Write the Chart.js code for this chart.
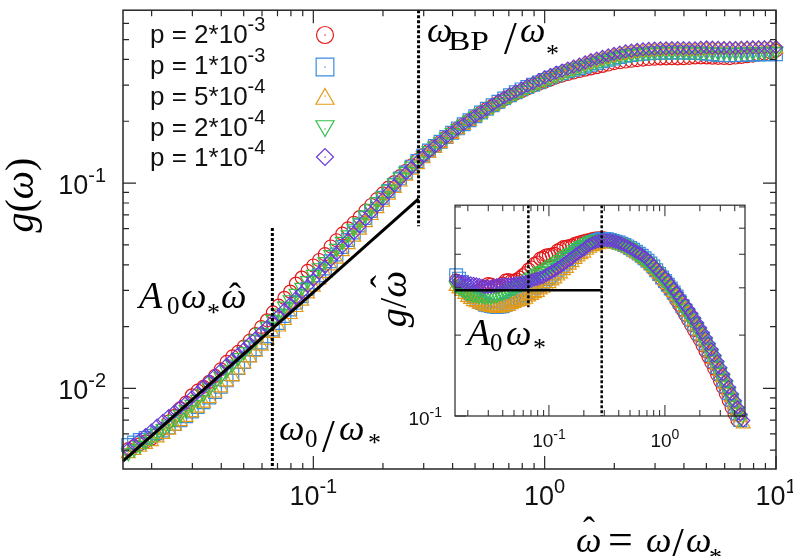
<!DOCTYPE html>
<html><head><meta charset="utf-8">
<script src="https://cdn.jsdelivr.net/npm/chart.js@4"></script>
<style>
html,body{margin:0;padding:0;background:#fff;}
#wrap{position:relative;width:793px;height:556px;overflow:hidden;background:#fff;}
#main{position:absolute;left:0;top:0;}
#inset{position:absolute;left:370px;top:195px;}
#txt{position:absolute;left:0;top:0;pointer-events:none;}
</style></head><body>
<div id="wrap">
<canvas id="main" width="793" height="556"></canvas>
<canvas id="inset" width="400" height="265"></canvas>
<svg id="txt" width="793" height="556" font-family="'Liberation Serif','DejaVu Serif',serif" fill="#000">
  <!-- omega_BP / omega_* -->
  <text x="427" y="42" font-size="36" font-style="italic">ω</text>
  <text x="448" y="50" font-size="28" textLength="41" lengthAdjust="spacingAndGlyphs">BP</text>
  <text x="504" y="54" font-size="46">/</text>
  <text x="520" y="42" font-size="36" font-style="italic">ω</text>
  <text x="546" y="62" font-size="26">*</text>
  <!-- A0 omega_* omega-hat -->
  <text><tspan x="139" y="308" font-size="38" font-style="italic">A</tspan><tspan x="167" y="314" font-size="25">0</tspan><tspan x="181" y="308" font-size="36" font-style="italic">ω</tspan><tspan x="207" y="321" font-size="26">*</tspan><tspan x="221" y="308" font-size="36" font-style="italic">ω</tspan><tspan x="229" y="308" font-size="36">ˆ</tspan></text>
  <!-- omega_0 / omega_* -->
  <text><tspan x="279" y="440" font-size="36" font-style="italic">ω</tspan><tspan x="305" y="447" font-size="25">0</tspan><tspan x="322" y="452" font-size="46">/</tspan><tspan x="339" y="440" font-size="36" font-style="italic">ω</tspan><tspan x="368" y="451" font-size="26">*</tspan></text>
  <!-- inset A0 omega_* -->
  <text><tspan x="467" y="345" font-size="38" font-style="italic">A</tspan><tspan x="490" y="351" font-size="25">0</tspan><tspan x="506" y="345" font-size="36" font-style="italic">ω</tspan><tspan x="533" y="356" font-size="26">*</tspan></text>
  <!-- x title -->
  <text><tspan x="576" y="552" font-size="36" font-style="italic">ω</tspan><tspan x="583" y="542" font-size="36">ˆ</tspan><tspan x="608" y="554" font-size="44">=</tspan><tspan x="646" y="552" font-size="36" font-style="italic">ω</tspan><tspan x="671" y="560" font-size="46">/</tspan><tspan x="686" y="552" font-size="36" font-style="italic">ω</tspan><tspan x="709" y="566" font-size="26">*</tspan></text>
  <!-- y title -->
  <text transform="translate(33,195) rotate(-90)" text-anchor="middle" font-size="40"><tspan font-style="italic">g</tspan>(<tspan font-style="italic">ω</tspan>)</text>
  <!-- inset y title -->
  <text transform="translate(406,299) rotate(-90)" text-anchor="middle" font-size="38"><tspan font-style="italic">g</tspan>/<tspan font-style="italic">ω</tspan><tspan dx="-17" dy="-9">ˆ</tspan></text>
</svg>
</div>
<script>
// ---------------- data ----------------
const omegaHat = [
  0.01585, 0.01679, 0.01778, 0.01884, 0.01995, 0.02113, 0.02239, 0.02371, 0.02512, 0.02661,
  0.02818, 0.02985, 0.03162, 0.0335, 0.03548, 0.03758, 0.03981, 0.04217, 0.04467, 0.04732,
  0.05012, 0.05309, 0.05623, 0.05957, 0.0631, 0.06683, 0.07079, 0.07499, 0.07943, 0.08414,
  0.08913, 0.09441, 0.1, 0.1059, 0.1122, 0.1189, 0.1259, 0.1334, 0.1413, 0.1496,
  0.1585, 0.1679, 0.1778, 0.1884, 0.1995, 0.2113, 0.2239, 0.2371, 0.2512, 0.2661,
  0.2818, 0.2985, 0.3162, 0.335, 0.3548, 0.3758, 0.3981, 0.4217, 0.4467, 0.4732,
  0.5012, 0.5309, 0.5623, 0.5957, 0.631, 0.6683, 0.7079, 0.7499, 0.7943, 0.8414,
  0.8913, 0.9441, 1.0, 1.059, 1.122, 1.189, 1.259, 1.334, 1.413, 1.496,
  1.585, 1.679, 1.778, 1.884, 1.995, 2.113, 2.239, 2.371, 2.512, 2.661,
  2.818, 2.985, 3.162, 3.35, 3.548, 3.758, 3.981, 4.217, 4.467, 4.732,
  5.012, 5.309, 5.623, 5.957, 6.31, 6.683, 7.079, 7.499, 7.943, 8.414,
  8.913, 9.441, 10.0
];
const g_p2e3 = [
  0.00506, 0.00522, 0.00534, 0.00551, 0.00569, 0.00598, 0.00636, 0.0069, 0.00735, 0.008,
  0.00853, 0.00925, 0.00975, 0.01018, 0.01076, 0.0115, 0.01239, 0.01345, 0.01431, 0.01505,
  0.01599, 0.01708, 0.0184, 0.0199, 0.02145, 0.02345, 0.02528, 0.0276, 0.0296, 0.0324,
  0.03463, 0.03735, 0.03967, 0.0422, 0.04503, 0.0491, 0.05267, 0.0567, 0.06023, 0.0641,
  0.06831, 0.0734, 0.07819, 0.08362, 0.08904, 0.09507, 0.1011, 0.108, 0.1148, 0.1221,
  0.1293, 0.1367, 0.144, 0.1515, 0.159, 0.1675, 0.176, 0.1847, 0.1934, 0.2025,
  0.2115, 0.2208, 0.23, 0.2383, 0.2465, 0.2559, 0.2653, 0.2728, 0.2803, 0.2891,
  0.2979, 0.3047, 0.3114, 0.3197, 0.3279, 0.3339, 0.3398, 0.3457, 0.3515, 0.3567,
  0.3619, 0.367, 0.372, 0.378, 0.3841, 0.3876, 0.391, 0.3942, 0.3974, 0.3997,
  0.402, 0.4034, 0.4048, 0.4053, 0.4057, 0.405, 0.4057, 0.4075, 0.4092, 0.4098,
  0.4092, 0.4083, 0.4073, 0.4068, 0.4064, 0.409, 0.4117, 0.4149, 0.418, 0.4229,
  0.4278, 0.4349, 0.442
];
const g_p1e3 = [
  0.0053, 0.00545, 0.00561, 0.00574, 0.00587, 0.00605, 0.00623, 0.00646, 0.0067, 0.007,
  0.00731, 0.00771, 0.00811, 0.00856, 0.00902, 0.0096, 0.01019, 0.01094, 0.01169, 0.01257,
  0.01345, 0.01448, 0.01551, 0.01672, 0.01794, 0.01937, 0.0208, 0.0225, 0.0242, 0.02616,
  0.02812, 0.03047, 0.03283, 0.03557, 0.03832, 0.0416, 0.04488, 0.04882, 0.05277, 0.05743,
  0.0621, 0.06761, 0.07312, 0.07898, 0.08484, 0.0915, 0.09817, 0.1054, 0.1126, 0.1203,
  0.1281, 0.1361, 0.144, 0.1515, 0.159, 0.1675, 0.176, 0.1847, 0.1934, 0.2025,
  0.2115, 0.2208, 0.23, 0.2395, 0.249, 0.2585, 0.268, 0.277, 0.286, 0.2935,
  0.301, 0.3094, 0.3178, 0.3262, 0.3346, 0.3425, 0.3505, 0.3566, 0.3626, 0.37,
  0.3773, 0.3847, 0.392, 0.3984, 0.4047, 0.4106, 0.4165, 0.42, 0.4234, 0.4259,
  0.4283, 0.4298, 0.4312, 0.4317, 0.4322, 0.4322, 0.4322, 0.4317, 0.4312, 0.429,
  0.4268, 0.4237, 0.4205, 0.42, 0.4195, 0.42, 0.4205, 0.4215, 0.4224, 0.4229,
  0.4234, 0.4239, 0.4243
];
const g_p5e4 = [
  0.00481, 0.00499, 0.00517, 0.00534, 0.00551, 0.00574, 0.00597, 0.00626, 0.00655, 0.00689,
  0.00723, 0.00762, 0.00802, 0.00847, 0.00892, 0.0095, 0.01007, 0.01075, 0.01142, 0.01229,
  0.01315, 0.01408, 0.015, 0.01608, 0.01716, 0.01854, 0.01991, 0.02141, 0.02291, 0.02478,
  0.02664, 0.02888, 0.03112, 0.03373, 0.03634, 0.03947, 0.04259, 0.04635, 0.0501, 0.05455,
  0.059, 0.06425, 0.0695, 0.07507, 0.08064, 0.08746, 0.09428, 0.1012, 0.1082, 0.1156,
  0.123, 0.1314, 0.1397, 0.1478, 0.1558, 0.1642, 0.1725, 0.182, 0.1915, 0.2005,
  0.2094, 0.2186, 0.2277, 0.2371, 0.2465, 0.2559, 0.2653, 0.2742, 0.2831, 0.2921,
  0.301, 0.3094, 0.3178, 0.3262, 0.3346, 0.3426, 0.3505, 0.3603, 0.37, 0.3775,
  0.385, 0.3925, 0.4, 0.4065, 0.413, 0.419, 0.425, 0.4285, 0.432, 0.4345,
  0.437, 0.4385, 0.44, 0.4405, 0.441, 0.441, 0.441, 0.4405, 0.44, 0.4422,
  0.4444, 0.4456, 0.4468, 0.4463, 0.4457, 0.4463, 0.4468, 0.4478, 0.4488, 0.4493,
  0.4498, 0.4503, 0.4508
];
const g_p2e4 = [
  0.00486, 0.00507, 0.00528, 0.00551, 0.00575, 0.00605, 0.00636, 0.00671, 0.00706, 0.00747,
  0.00788, 0.00836, 0.00884, 0.00944, 0.01005, 0.01075, 0.01146, 0.0123, 0.01313, 0.01411,
  0.01509, 0.01623, 0.01738, 0.01873, 0.02009, 0.02167, 0.02326, 0.02514, 0.02703, 0.02905,
  0.03108, 0.0335, 0.03591, 0.0387, 0.04148, 0.04478, 0.04809, 0.05203, 0.05597, 0.06027,
  0.06458, 0.06994, 0.0753, 0.08091, 0.08652, 0.09331, 0.1001, 0.1069, 0.1137, 0.1209,
  0.1281, 0.1361, 0.144, 0.1515, 0.159, 0.1675, 0.176, 0.1847, 0.1934, 0.2025,
  0.2115, 0.2196, 0.2277, 0.2371, 0.2465, 0.2559, 0.2653, 0.2742, 0.2831, 0.2921,
  0.301, 0.3094, 0.3178, 0.3262, 0.3346, 0.3426, 0.3505, 0.3584, 0.3663, 0.3738,
  0.3812, 0.3886, 0.396, 0.4025, 0.409, 0.415, 0.421, 0.4245, 0.428, 0.4305,
  0.433, 0.4345, 0.436, 0.4365, 0.437, 0.437, 0.437, 0.4365, 0.436, 0.436,
  0.436, 0.435, 0.434, 0.4335, 0.433, 0.4335, 0.434, 0.435, 0.436, 0.4365,
  0.437, 0.4375, 0.438
];
const g_p1e4 = [
  0.00506, 0.00533, 0.00561, 0.00592, 0.00623, 0.00659, 0.00695, 0.00733, 0.00772, 0.00812,
  0.00853, 0.00905, 0.00957, 0.01022, 0.01087, 0.01157, 0.01227, 0.01303, 0.01379, 0.01466,
  0.01554, 0.01654, 0.01755, 0.01872, 0.01989, 0.02124, 0.02259, 0.02416, 0.02574, 0.02752,
  0.0293, 0.03158, 0.03386, 0.03648, 0.03911, 0.04222, 0.04534, 0.04905, 0.05277, 0.05712,
  0.06148, 0.06658, 0.07168, 0.07742, 0.08316, 0.09018, 0.0972, 0.1043, 0.1115, 0.1191,
  0.1268, 0.1347, 0.1426, 0.1508, 0.159, 0.1675, 0.176, 0.1847, 0.1934, 0.2025,
  0.2115, 0.2208, 0.23, 0.2407, 0.2515, 0.2611, 0.2707, 0.2798, 0.2889, 0.298,
  0.307, 0.3172, 0.3274, 0.3361, 0.3448, 0.353, 0.3611, 0.3692, 0.3774, 0.387,
  0.3966, 0.4043, 0.412, 0.4187, 0.4254, 0.4316, 0.4378, 0.4414, 0.445, 0.4476,
  0.4501, 0.4517, 0.4532, 0.4537, 0.4542, 0.4542, 0.4542, 0.4537, 0.4532, 0.4554,
  0.4576, 0.4566, 0.4555, 0.455, 0.4545, 0.455, 0.4555, 0.4566, 0.4576, 0.4581,
  0.4586, 0.4592, 0.4597
];
const seriesLabels = ['p = 2*10', 'p = 1*10', 'p = 5*10', 'p = 2*10', 'p = 1*10'];
const seriesExponents = ['-3', '-3', '-4', '-4', '-4'];

// straight line A0 w* w-hat and its inset counterpart A0 w*
const fitX = [0.01504, 0.285];
const fitG = [0.00442, 0.0838];
const insetFitX = [0.0155, 0.285];
const insetFitR = [0.294, 0.294];
// dotted markers at w0/w* and wBP/w*
const w0 = 0.0665, wBP = 0.285;
const mainDotW0 = [0.0605, 0.00405];
const mainDotBP = [0.695, 0.0616];
const insetDotW0 = [0.609, 0.254];
const insetDotBP = [0.609, 0.1];

// tick labels
const mainXTickValues = [0.1, 1, 10];
const mainXTickExps = ['-1', '0', '1'];
const mainYTickValues = [0.01, 0.1];
const mainYTickExps = ['-2', '-1'];
const insetXTickValues = [0.1, 1];
const insetXTickExps = ['-1', '0'];
const insetYTickValues = [0.1];
const insetYTickExps = ['-1'];

// ---------------- style ----------------
const colors = ['#e31a1c', '#3a8de0', '#e39b17', '#35c04a', '#6a3bd8'];
const styles = ['circle', 'rect', 'triangle', 'triangle', 'rectRot'];
const rotations = [0, 0, 0, 180, 0];
const dataRadius = [6.5, 9, 8, 8, 6.5];
const legendRadius = [8.5, 12.5, 10.5, 10.5, 8.5];
const SANS = '"Liberation Sans", Arial, Helvetica, sans-serif';

function logTicks(min, max) {
  const out = [];
  for (let e = Math.floor(Math.log10(min)); e <= Math.ceil(Math.log10(max)); e++) {
    for (let m = 1; m <= 9; m++) {
      const v = m * Math.pow(10, e);
      if (v >= min * 0.999 && v <= max * 1.001) out.push(v);
    }
  }
  return out;
}
function isDecade(v) { const l = Math.log10(v); return Math.abs(l - Math.round(l)) < 1e-6; }
function drawSup(ctx, base, exp, x, y, align, fb, fe, raise) {
  ctx.font = fb + 'px ' + SANS; const wb = ctx.measureText(base).width;
  ctx.font = fe + 'px ' + SANS; const we = ctx.measureText(exp).width;
  let sx = x;
  if (align === 'center') sx = x - (wb + we) / 2;
  else if (align === 'right') sx = x - wb - we;
  ctx.textAlign = 'left'; ctx.textBaseline = 'alphabetic';
  ctx.font = fb + 'px ' + SANS; ctx.fillText(base, sx, y);
  ctx.font = fe + 'px ' + SANS; ctx.fillText(exp, sx + wb, y - raise);
}

const axisDeco = {
  id: 'axisDeco',
  afterDatasetsDraw(chart, args, o) {
    const ctx = chart.ctx, a = chart.chartArea, xs = chart.scales.x, ys = chart.scales.y;
    ctx.save();
    ctx.strokeStyle = '#262626';
    ctx.lineWidth = o.tickWidth;
    ctx.beginPath();
    logTicks(xs.min, xs.max).forEach(v => {
      const p = xs.getPixelForValue(v);
      const L = isDecade(v) ? o.major : o.minor;
      ctx.moveTo(p, a.bottom); ctx.lineTo(p, a.bottom - L);
      ctx.moveTo(p, a.top); ctx.lineTo(p, a.top + L);
    });
    logTicks(ys.min, ys.max).forEach(v => {
      const p = ys.getPixelForValue(v);
      const L = isDecade(v) ? o.major : o.minor;
      ctx.moveTo(a.left, p); ctx.lineTo(a.left + L, p);
      ctx.moveTo(a.right, p); ctx.lineTo(a.right - L, p);
    });
    ctx.stroke();
    ctx.lineWidth = o.frameWidth;
    ctx.strokeRect(a.left, a.top, a.right - a.left, a.bottom - a.top);
    ctx.fillStyle = '#111';
    o.xVals.forEach((v, i) => drawSup(ctx, '10', o.xExps[i], xs.getPixelForValue(v), a.bottom + o.xDy, 'center', o.fb, o.fe, o.raise));
    o.yVals.forEach((v, i) => drawSup(ctx, '10', o.yExps[i], a.left - o.yDx, ys.getPixelForValue(v) + o.yDy, 'right', o.fb, o.fe, o.raise));
    ctx.restore();
  }
};

const legendRows = [43, 74, 105, 136, 166];
const legendMarkY = [35, 67, 99, 126, 157];
const legendDraw = {
  id: 'legendDraw',
  afterDraw(chart) {
    const ctx = chart.ctx;
    ctx.save();
    ctx.fillStyle = '#111';
    seriesLabels.forEach((t, i) => drawSup(ctx, t, seriesExponents[i], 150, legendRows[i], 'left', 26, 20, 12));
    seriesLabels.forEach((t, i) => {
      ctx.strokeStyle = colors[i];
      ctx.fillStyle = 'rgba(0,0,0,0)';
      Chart.helpers.drawPoint(ctx, { pointStyle: styles[i], radius: legendRadius[i], rotation: rotations[i], borderWidth: 1.3 }, 325, legendMarkY[i]);
      ctx.fillStyle = colors[i];
      ctx.fillRect(324.4, (i === 2 ? legendMarkY[i] - 3 : i === 3 ? legendMarkY[i] + 3 : legendMarkY[i]) - 0.6, 1.3, 1.3);
    });
    ctx.restore();
  }
};

const gSeries = [g_p2e3, g_p1e3, g_p5e4, g_p2e4, g_p1e4];
function markerSet(i, data) {
  return {
    label: seriesLabels[i] + seriesExponents[i], data,
    showLine: false, pointStyle: styles[i], pointRotation: rotations[i],
    pointRadius: dataRadius[i], pointBorderWidth: 1.2,
    borderColor: colors[i], pointBorderColor: colors[i],
    backgroundColor: 'rgba(0,0,0,0)', pointBackgroundColor: 'rgba(0,0,0,0)',
    clip: false, order: 4 - i
  };
}
function lineSet(xs, ys, width, dash) {
  return {
    data: xs.map((x, j) => ({ x, y: ys[j] })), showLine: true, pointRadius: 0,
    borderColor: '#000', borderWidth: width, borderDash: dash || [], clip: false, order: -1
  };
}
function hiddenAxis(min, max) {
  return { type: 'logarithmic', min, max, display: false };
}

const mainSets = gSeries.map((g, i) => markerSet(i, omegaHat.map((x, j) => ({ x, y: g[j] }))));
mainSets.push(lineSet(fitX, fitG, 3));
mainSets.push(lineSet([w0, w0], mainDotW0, 3, [3, 2]));
mainSets.push(lineSet([wBP, wBP], mainDotBP, 3, [3, 2]));

new Chart(document.getElementById('main'), {
  type: 'scatter',
  data: { datasets: mainSets },
  options: {
    responsive: false, animation: false, devicePixelRatio: 1, events: [],
    layout: { padding: { left: 123, top: 2, right: 17, bottom: 87 } },
    plugins: {
      legend: { display: false }, tooltip: { enabled: false },
      axisDeco: { major: 13, minor: 6, tickWidth: 1.2, frameWidth: 1.5,
        xVals: mainXTickValues, xExps: mainXTickExps, yVals: mainYTickValues, yExps: mainYTickExps,
        fb: 27, fe: 20, raise: 12, xDy: 36, yDx: 17, yDy: 11 }
    },
    scales: { x: hiddenAxis(0.01504, 10), y: hiddenAxis(0.00405, 0.695) }
  },
  plugins: [axisDeco, legendDraw]
});

// inset: g / omega-hat
const insetSets = gSeries.map((g, i) => markerSet(i, omegaHat.map((x, j) => ({ x, y: g[j] / x }))));
insetSets.push(lineSet(insetFitX, insetFitR, 2.5));
insetSets.push(lineSet([w0, w0], insetDotW0, 2.5, [3, 2]));
insetSets.push(lineSet([wBP, wBP], insetDotBP, 2.5, [3, 2]));

new Chart(document.getElementById('inset'), {
  type: 'scatter',
  data: { datasets: insetSets },
  options: {
    responsive: false, animation: false, devicePixelRatio: 1, events: [],
    layout: { padding: { left: 85, top: 10, right: 25, bottom: 44 } },
    plugins: {
      legend: { display: false }, tooltip: { enabled: false },
      axisDeco: { major: 11, minor: 6, tickWidth: 1, frameWidth: 1.2,
        xVals: insetXTickValues, xExps: insetXTickExps, yVals: insetYTickValues, yExps: insetYTickExps,
        fb: 19, fe: 14, raise: 8, xDy: 31, yDx: 13, yDy: 9 }
    },
    scales: { x: hiddenAxis(0.0155, 4.9), y: hiddenAxis(0.1, 0.609) }
  },
  plugins: [axisDeco]
});
</script>
</body></html>
